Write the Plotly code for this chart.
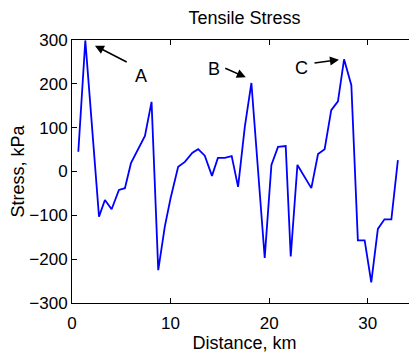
import plotly.graph_objects as go

distance_km = [0.64, 1.35, 2.74, 3.34, 4.02, 4.76, 5.37, 5.98, 7.40, 8.07, 8.75, 9.42,
               10.0, 10.77, 11.45, 12.22, 12.8, 13.47, 14.2, 14.8, 15.5, 16.2, 16.85,
               17.53, 18.2, 19.55, 20.23, 20.9, 21.68, 22.19, 22.87, 24.28, 24.96,
               25.63, 26.3, 26.98, 27.6, 28.34, 29.0, 29.69, 30.36, 31.03, 31.7, 32.4, 33.06]
stress_kpa = [45, 299, -103, -65, -86, -42, -38, 19, 81, 159, -225, -125,
              -61, 11, 22, 43, 51, 36, -10, 31, 31, 35, -35,
              102, 202, -197, 15, 56, 58, -194, 15, -38, 40,
              51, 140, 160, 256, 197, -157, -157, -253, -131, -109, -109, 26]

x_ticks = [0, 10, 20, 30]
y_ticks = [-300, -200, -100, 0, 100, 200, 300]

# annotation labels: text, text position, arrow tail, arrow head
labels = ["A", "B", "C"]
label_pos = [(6.99, 219), (14.39, 233), (23.27, 237)]
arrow_tail = [(5.70, 248), (15.4, 237), (24.45, 247)]
arrow_head = [(2.33, 287), (17.63, 215), (27.08, 255)]

FONT = "Liberation Sans, Arial, Helvetica, sans-serif"

fig = go.Figure()
fig.add_trace(go.Scatter(x=distance_km, y=stress_kpa, mode="lines",
                         line=dict(color="#0000ff", width=1.8), showlegend=False))

annotations = []
for t, (tx, ty), (ax, ay), (hx, hy) in zip(labels, label_pos, arrow_tail, arrow_head):
    annotations.append(dict(x=tx, y=ty, xref="x", yref="y", text=t, showarrow=False,
                            font=dict(family=FONT, size=18, color="black")))
    annotations.append(dict(x=hx, y=hy, ax=ax, ay=ay, xref="x", yref="y",
                            axref="x", ayref="y", text="", showarrow=True,
                            arrowhead=2, arrowsize=1.2, arrowwidth=1.5,
                            arrowcolor="black"))

axis_common = dict(showline=True, linecolor="black", linewidth=1, mirror="allticks",
                   ticks="inside", ticklen=5, tickcolor="black", showgrid=False,
                   zeroline=False, automargin=False,
                   tickfont=dict(family=FONT, size=17, color="black"))

# the page body has an 8px margin, so the figure is sized to fit the window
W, H = 409, 346
fig.update_layout(
    width=W, height=H,
    margin=dict(l=64, r=0, t=31.5, b=50.5),
    paper_bgcolor="white", plot_bgcolor="white",
    title=dict(text="Tensile Stress", x=236.5 / W, xanchor="center",
               y=1 - 9.5 / H, yanchor="middle",
               font=dict(family=FONT, size=18, color="black")),
    xaxis=dict(range=[0, 35], tickvals=x_ticks, ticklabelstandoff=5,
               title=dict(text="Distance, km", standoff=0,
                          font=dict(family=FONT, size=18, color="black")),
               **axis_common),
    yaxis=dict(range=[-300, 300], tickvals=y_ticks,
               title=dict(text="Stress, kPa", standoff=3,
                          font=dict(family=FONT, size=18, color="black")),
               **axis_common),
    annotations=annotations,
)

fig.write_html("out.html")
